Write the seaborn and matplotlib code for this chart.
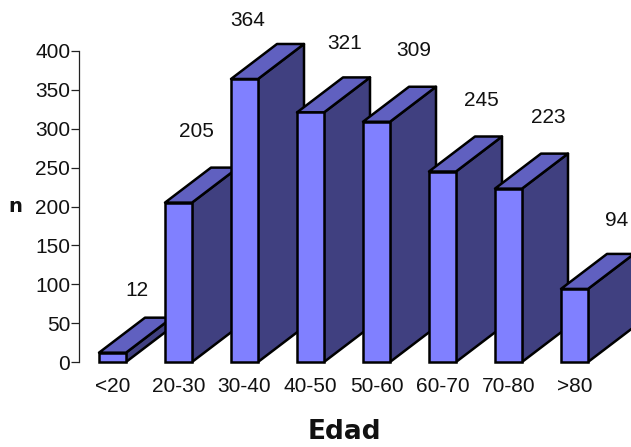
import pandas as pd
import matplotlib.pyplot as plt
import seaborn as sns
from matplotlib.patches import Polygon

# Values
edades = ['<20', '20-30', '30-40', '40-50', '50-60', '60-70', '70-80', '>80']
conteos = [12, 205, 364, 321, 309, 245, 223, 94]
yticks = [0, 50, 100, 150, 200, 250, 300, 350, 400]

# Label placement, in pixels from the top centre of each bar
label_dx = [24, 18, 3, 34, 37, 39, 40, 42]
label_dy = [62, 71, 58, 69, 71, 71, 71, 68]

df = pd.DataFrame({'edad': edades, 'n': conteos})

sns.set_theme(style='white')
plt.rcParams['font.family'] = ['Liberation Sans', 'DejaVu Sans']

FRONT = '#8080ff'
TOP = '#6060c0'
SIDE = '#404080'
DEPTH_X = 46 / 66   # depth of the fake 3D, in category units
DEPTH_Y = 35 / 0.7775   # and in y units
EDGE = 1.8
FONT = 15

fig = plt.figure(figsize=(6.31, 4.47), dpi=100)
ax = fig.add_axes([79 / 631, 85 / 447, 552 / 631, 311 / 447])

sns.barplot(data=df, x='edad', y='n', color=FRONT, saturation=1, width=27 / 66,
            edgecolor='black', linewidth=EDGE, ax=ax)

ax.set_xlim(-33.5 / 66, 552 / 66 - 33.5 / 66)
ax.set_ylim(0, 400)

# Top and side faces built from each bar, left bars get covered by the next one
for i, bar in enumerate(ax.patches):
    x0 = bar.get_x()
    x1 = x0 + bar.get_width()
    h = bar.get_height()
    side = [(x1, 0), (x1 + DEPTH_X, DEPTH_Y), (x1 + DEPTH_X, h + DEPTH_Y), (x1, h)]
    top = [(x0, h), (x0 + DEPTH_X, h + DEPTH_Y), (x1 + DEPTH_X, h + DEPTH_Y), (x1, h)]
    for pts, col in [(side, SIDE), (top, TOP)]:
        ax.add_patch(Polygon(pts, closed=True, facecolor=col, edgecolor='black',
                             linewidth=EDGE, joinstyle='round', zorder=3 + 2 * i, clip_on=False))
    bar.set_zorder(4 + 2 * i)
    bar.set_clip_on(False)
    ax.annotate(str(conteos[i]), xy=(i, h), xytext=(label_dx[i], label_dy[i]),
                textcoords='offset pixels', ha='center', va='center',
                fontsize=FONT, color='#111111', annotation_clip=False)

sns.despine(ax=ax, bottom=True)
ax.spines['left'].set_color('#222222')
ax.spines['left'].set_linewidth(0.9)
ax.set_yticks(yticks)
ax.tick_params(axis='y', left=True, length=5.8, width=0.9, color='#222222', pad=0.5, labelsize=FONT, labelcolor='#111111')
ax.tick_params(axis='x', bottom=False, pad=5, labelsize=FONT, labelcolor='#111111')

ax.set_ylabel('n', rotation=0, family='DejaVu Sans', fontweight='bold', fontsize=14, color='#111111')
ax.yaxis.set_label_coords(-64 / 552, 0.5)
ax.yaxis.label.set_verticalalignment('center')
ax.set_xlabel('Edad', family='DejaVu Sans', fontweight='bold', fontsize=19, color='#111111')
ax.xaxis.set_label_coords(265 / 552, -70 / 311)
ax.xaxis.label.set_verticalalignment('center')

plt.savefig('out.png', dpi=100)
